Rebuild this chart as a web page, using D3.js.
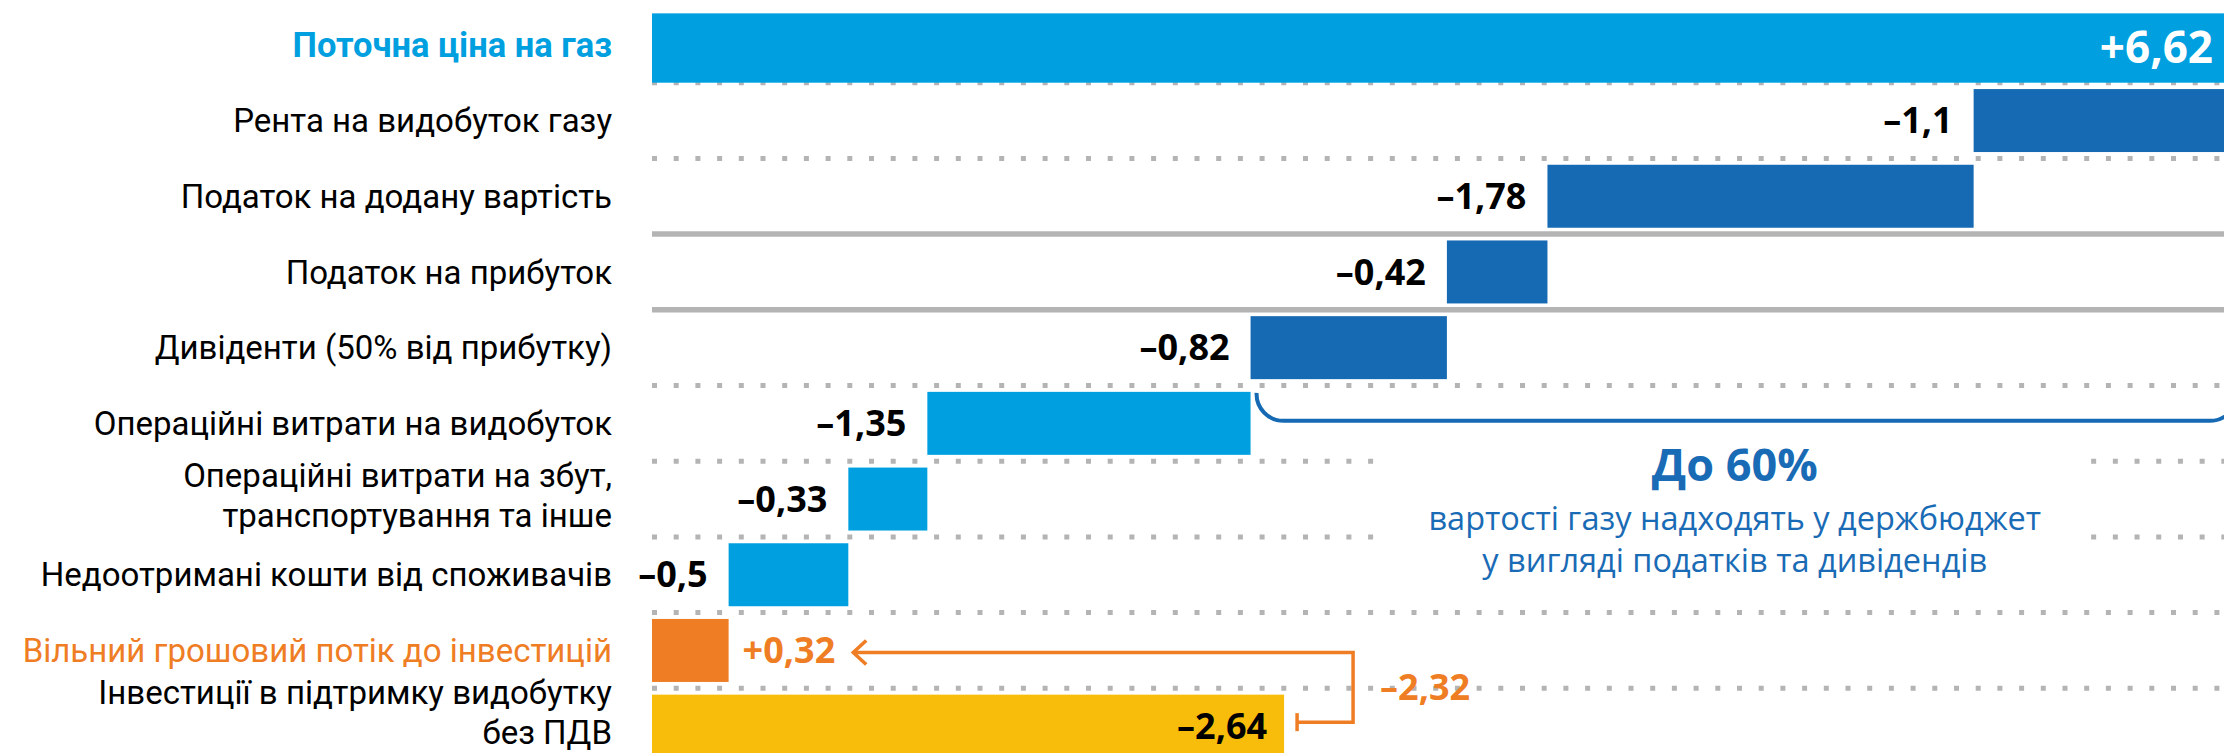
<!DOCTYPE html>
<html>
<head>
<meta charset="utf-8">
<script src="https://cdn.jsdelivr.net/npm/d3@7"></script>
<style>
 body{margin:0;background:#fff;overflow:hidden;}
 svg{display:block;font-family:"Open Sans",sans-serif;}
 .cat{font-family:Roboto,"Open Sans",sans-serif;}
</style>
</head>
<body>
<div id="chartDiv"></div>
<script>
//Rows, top to bottom (two-line labels split in two)
var categories = [
 ["Поточна ціна на газ"],
 ["Рента на видобуток газу"],
 ["Податок на додану вартість"],
 ["Податок на прибуток"],
 ["Дивіденти (50% від прибутку)"],
 ["Операційні витрати на видобуток"],
 ["Операційні витрати на збут,", "транспортування та інше"],
 ["Недоотримані кошти від споживачів"],
 ["Вільний грошовий потік до інвестицій"],
 ["Інвестиції в підтримку видобутку", "без ПДВ"]
];
var values = [6.62, -1.1, -1.78, -0.42, -0.82, -1.35, -0.33, -0.5, 0.32, -2.64];
var kinds  = ["total","tax","tax","tax","tax","cost","cost","cost","fcf","invest"];
var solidAfter = [2, 3];			//rows that get a solid rule under them
var noteTitle = "До 60%";
var noteLines = ["вартості газу надходять у держбюджет", "у вигляді податків та дивідендів"];

var W = 2224, H = 753;
var colors = {total:"#00a0e0", tax:"#166ab3", cost:"#00a0e0", fcf:"#ef7d24", invest:"#f8bd0a"};
var noteBlue = "#1a6bb5", ruleGray = "#b4b4b4", orange = "#ef7d24";

//Build waterfall start/end for each row
var running = 0, bars = [];
values.forEach(function(v, i){
 var k = kinds[i], x0, x1;
 if(k == "total"){ x0 = 0; x1 = v; running = v; }
 else if(k == "fcf" || k == "invest"){ x0 = 0; x1 = Math.abs(v); }
 else { x0 = running + v; x1 = running; running += v; }
 bars.push({i: i, kind: k, v: v, x0: x0, x1: x1, label: categories[i]});
});

function fmt(v){			//+6,62 / –1,1 style
 return (v > 0 ? "+" : "\u2013") + d3.format(".2~f")(Math.abs(v)).replace(".", ",");
}

var xScale = d3.scaleLinear().domain([0, d3.max(bars, d => d.x1)]).range([652, 2237]);
var yScale = d3.scaleBand().domain(d3.range(categories.length)).range([7, 764])
 .paddingInner(0.168).paddingOuter(0.084);
var bw = yScale.bandwidth(), step = yScale.step(), gap = step - bw;

var svg = d3.select("#chartDiv").append("svg")
 .attr("width", W).attr("height", H);

//Note text under the brace (drawn first so the rules can skip round it)
var taxBars = bars.filter(d => d.kind == "tax");
var bx0 = xScale(d3.min(taxBars, d => d.x0)) + 6;
var bx1 = xScale(d3.max(taxBars, d => d.x1));
var by0 = yScale(5) + 1, by1 = yScale(5) + 29, r = 27;
var noteX = (bx0 + bx1) / 2 - 12;

var note = svg.append("g").attr("fill", noteBlue).attr("text-anchor", "middle");
note.append("text")
 .attr("x", noteX).attr("y", by1 + 60)
 .style("font-size", "45px").style("font-weight", "bold")
 .text(noteTitle);
note.selectAll(".nl").data(noteLines).enter().append("text")
 .attr("class", "nl")
 .attr("x", noteX).attr("y", (d, i) => by1 + 109 + i * 42)
 .style("font-size", "32.5px")
 .text(d => d);
var nb = note.node().getBBox();

//Row rules
var rules = svg.append("g");
d3.range(categories.length - 1).forEach(function(i){
 var y = yScale(i) + bw + gap / 2;
 var solid = solidAfter.indexOf(i) >= 0;
 var segs = [[652, W + 20]];
 if(!solid && y > nb.y && y < nb.y + nb.height) segs = [[652, nb.x - 54], [nb.x + nb.width + 50, W + 20]];
 segs.forEach(function(s){
  rules.append("line")
   .attr("x1", s[0]).attr("x2", s[1]).attr("y1", y).attr("y2", y)
   .attr("stroke", ruleGray)
   .attr("stroke-width", solid ? 5.5 : 5)
   .attr("stroke-dasharray", solid ? null : "5,16.7");
 });
});

//Bars
svg.selectAll(".bar").data(bars).enter().append("rect")
 .attr("class", "bar")
 .attr("x", d => xScale(d.x0))
 .attr("y", d => yScale(d.i))
 .attr("width", d => xScale(d.x1) - xScale(d.x0))
 .attr("height", d => d.kind == "total" ? bw + gap / 2 : bw)
 .attr("fill", d => colors[d.kind]);

//Category labels
var catSize = 33, lineGap = 40;
var labs = svg.selectAll(".cat").data(bars).enter().append("text")
 .attr("class", "cat")
 .attr("text-anchor", "end")
 .style("font-size", d => d.kind == "total" ? "34.5px" : catSize + "px")
 .style("font-weight", d => d.kind == "total" ? "bold" : "normal")
 .attr("fill", d => d.kind == "total" ? colors.total : d.kind == "fcf" ? orange : "#000");
labs.each(function(d){
 var n = d.label.length, yc = yScale(d.i) + bw / 2;
 if(n > 1) yc = Math.min(yc - 4, H - lineGap / 2 - 21);	//keep last line inside
 d3.select(this).selectAll("tspan").data(d.label).enter().append("tspan")
  .attr("x", 612)
  .attr("y", (t, j) => yc + (j - (n - 1) / 2) * lineGap)
  .attr("dy", "0.35em")
  .text(t => t);
});

//Value labels
svg.selectAll(".val").data(bars).enter().append("text")
 .attr("class", "val")
 .attr("x", function(d){
  if(d.kind == "total") return xScale(d.x1) - 24;
  if(d.kind == "invest") return xScale(d.x1) - 17;
  if(d.kind == "fcf") return xScale(d.x1) + 14;
  return xScale(d.x0) - 21;
 })
 .attr("y", d => yScale(d.i) + (d.kind == "total" ? (bw + gap / 2) / 2 : bw / 2))
 .attr("dy", "0.35em")
 .attr("text-anchor", d => d.kind == "fcf" ? "start" : "end")
 .style("font-weight", "bold")
 .style("font-size", d => d.kind == "total" ? "44px" : "36px")
 .attr("fill", d => d.kind == "total" ? "#fff" : d.kind == "fcf" ? orange : "#000")
 .text(d => fmt(d.v));

//Brace over the tax rows
svg.append("path")
 .attr("d", "M" + bx0 + "," + by0 + " A" + r + "," + r + " 0 0 0 " + (bx0 + r) + "," + by1 +
  " H" + (bx1 - r) + " A" + r + "," + r + " 0 0 0 " + bx1 + "," + by0)
 .attr("fill", "none").attr("stroke", colors.tax).attr("stroke-width", 4);

//Orange connector between investments and free cash flow
var fcf = bars[8], inv = bars[9];
var fcfLab = svg.selectAll(".val").filter(d => d.kind == "fcf").node().getBBox();
var xTip = fcfLab.x + fcfLab.width + 18;
var yTop = yScale(fcf.i) + bw / 2 + 2, yBot = yScale(inv.i) + bw / 2 - 4;
var xRight = xScale(inv.x1) + 69, xStub = xScale(inv.x1) + 13;
var conn = svg.append("g").attr("fill", "none").attr("stroke", orange).attr("stroke-width", 3.5);
conn.append("path").attr("d", "M" + xTip + "," + yTop + " H" + xRight + " V" + yBot + " H" + xStub);
conn.append("path").attr("d", "M" + xStub + "," + (yBot - 9) + " V" + (yBot + 9));
conn.append("path").attr("d", "M" + (xTip + 13) + "," + (yTop - 12) + " L" + xTip + "," + yTop + " L" + (xTip + 13) + "," + (yTop + 12));

svg.append("text")
 .attr("x", xRight + 27).attr("y", (yTop + yBot) / 2).attr("dy", "0.35em")
 .style("font-weight", "bold").style("font-size", "36px")
 .attr("fill", orange)
 .text(fmt(fcf.v + inv.v));
</script>
</body>
</html>
